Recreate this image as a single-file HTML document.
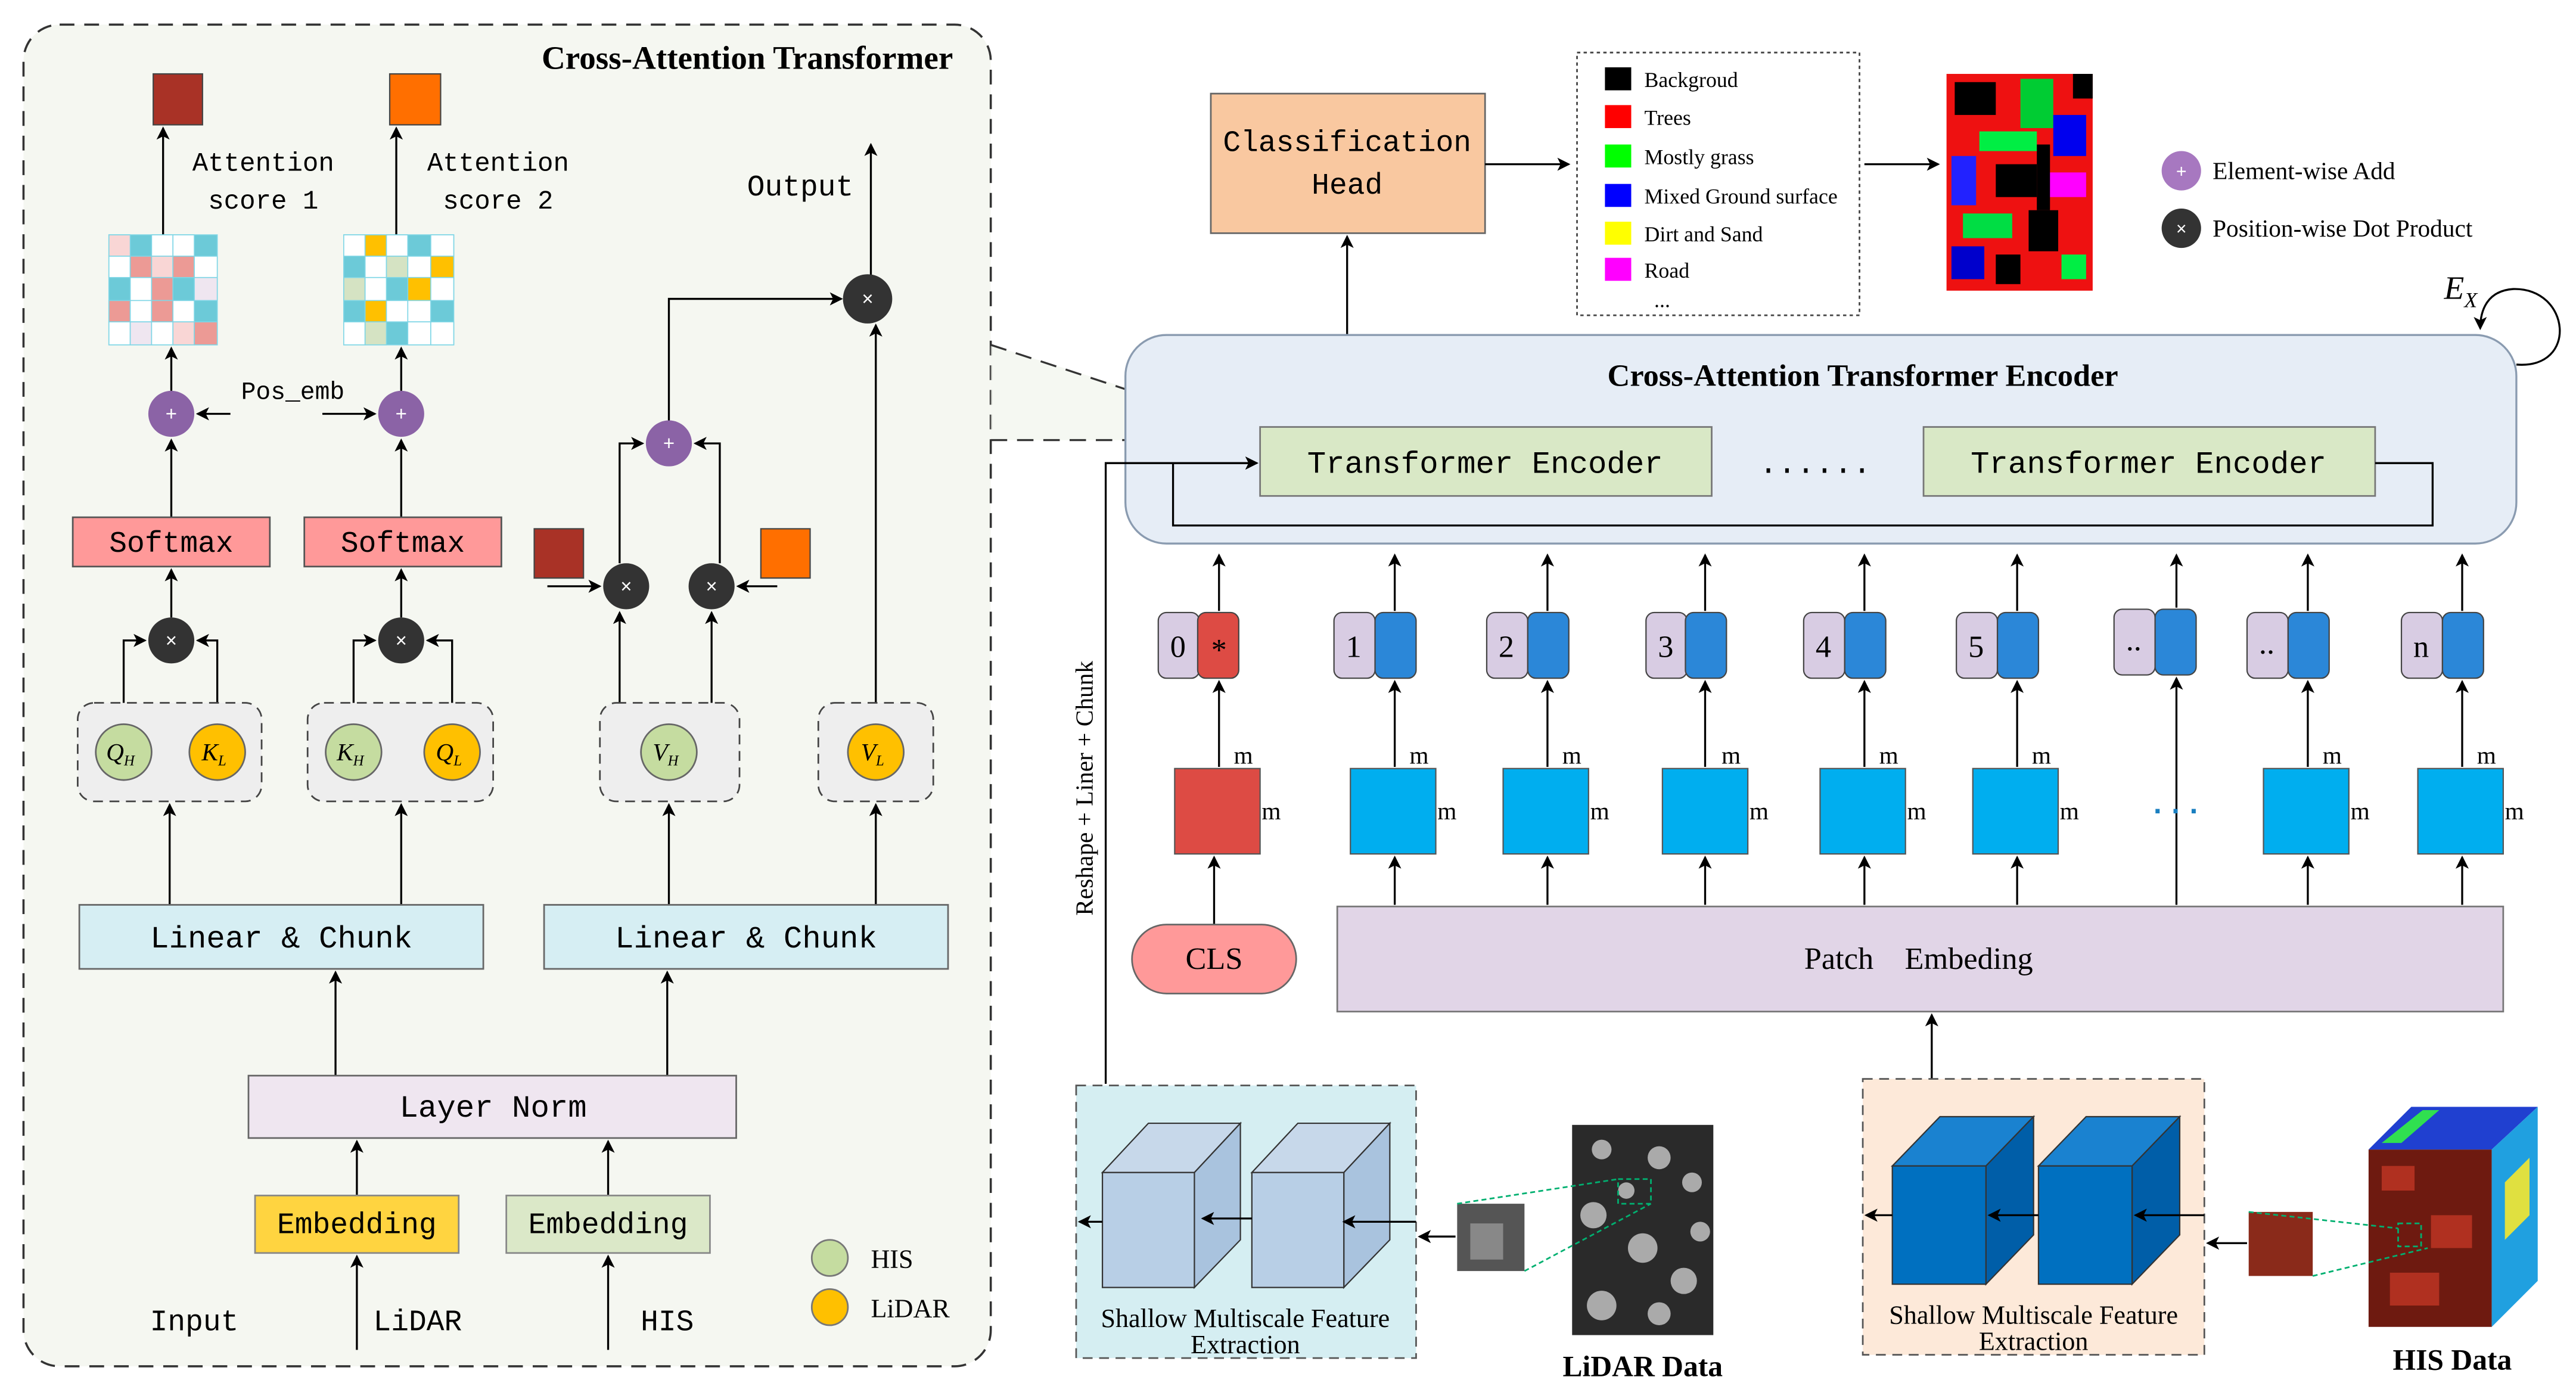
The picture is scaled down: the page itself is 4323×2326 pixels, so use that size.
<!DOCTYPE html>
<html><head><meta charset="utf-8"><style>
html,body{margin:0;padding:0;background:#fff}
svg{display:block}
.m{font-family:"Liberation Mono",monospace}
.s{font-family:"Liberation Serif",serif}
</style></head><body>
<svg width="4323" height="2326" viewBox="0 0 1568 844" xmlns="http://www.w3.org/2000/svg">
<defs>
<marker id="a" markerWidth="8" markerHeight="8" refX="7" refY="4" orient="auto" markerUnits="userSpaceOnUse"><path d="M0,0 L8,4 L0,8 L2,4 z" fill="#000"/></marker>
</defs>
<rect width="1568" height="844" fill="#fff"/>
<!-- LEFT PANEL -->
<rect x="14" y="15" width="589" height="817" rx="22" fill="#f5f7f1" stroke="#333" stroke-width="1.3" stroke-dasharray="9,6"/>
<text x="580" y="42" text-anchor="end" class="s" font-weight="bold" font-size="20">Cross-Attention Transformer</text>
<rect x="93" y="45" width="30" height="31" fill="#a93226" stroke="#444" stroke-width="0.8"/>
<rect x="237" y="45" width="31" height="31" fill="#ff6f00" stroke="#444" stroke-width="0.8"/>
<g stroke="#000" stroke-width="1.2" fill="none" marker-end="url(#a)">
<line x1="99" y1="143" x2="99" y2="78"/><line x1="241" y1="143" x2="241" y2="78"/>
<line x1="530" y1="168" x2="530" y2="88"/>
<line x1="104" y1="238" x2="104" y2="212"/><line x1="244" y1="238" x2="244" y2="212"/>
<line x1="140" y1="252" x2="120" y2="252"/><line x1="196" y1="252" x2="228" y2="252"/>
<line x1="104" y1="315" x2="104" y2="268"/><line x1="244" y1="315" x2="244" y2="268"/>
<line x1="104" y1="376" x2="104" y2="347"/><line x1="244" y1="376" x2="244" y2="347"/>
<polyline points="75,441 75,390 88,390"/><polyline points="132,441 132,390 120,390"/>
<polyline points="215,441 215,390 228,390"/><polyline points="275,441 275,390 260,390"/>
<line x1="103" y1="551" x2="103" y2="490"/><line x1="244" y1="551" x2="244" y2="490"/>
<line x1="407" y1="551" x2="407" y2="490"/><line x1="533" y1="551" x2="533" y2="490"/>
<line x1="204" y1="655" x2="204" y2="592"/><line x1="406" y1="655" x2="406" y2="592"/>
<line x1="217" y1="728" x2="217" y2="695"/><line x1="370" y1="728" x2="370" y2="695"/>
<line x1="217" y1="822" x2="217" y2="765"/><line x1="370" y1="822" x2="370" y2="765"/>
<line x1="377" y1="428" x2="377" y2="373"/><line x1="433" y1="428" x2="433" y2="373"/>
<line x1="333" y1="357" x2="365" y2="357"/><line x1="473" y1="357" x2="449" y2="357"/>
<polyline points="377,343 377,270 391,270"/><polyline points="438,343 438,270 423,270"/>
<polyline points="407,256 407,182 512,182"/>
<line x1="533" y1="428" x2="533" y2="198"/>
</g>
<text x="160" y="104" text-anchor="middle" class="m" font-size="16">Attention</text>
<text x="160" y="127" text-anchor="middle" class="m" font-size="16">score 1</text>
<text x="303" y="104" text-anchor="middle" class="m" font-size="16">Attention</text>
<text x="303" y="127" text-anchor="middle" class="m" font-size="16">score 2</text>
<text x="487" y="119" text-anchor="middle" class="m" font-size="18">Output</text>
<text x="178" y="243" text-anchor="middle" class="m" font-size="15">Pos_emb</text>
<!-- grids -->
<g stroke="#7fd6e6" stroke-width="0.6">
<rect x="66" y="143" width="66" height="67" fill="#6ccad8"/>
<rect x="66" y="143" width="13" height="13" fill="#f9d6d5"/><rect x="92" y="143" width="13" height="13" fill="#fff"/><rect x="105" y="143" width="13" height="13" fill="#fff"/>
<rect x="66" y="156" width="13" height="13" fill="#fff"/><rect x="79" y="156" width="13" height="13" fill="#ec9a95"/><rect x="92" y="156" width="13" height="13" fill="#f9d6d5"/><rect x="105" y="156" width="13" height="13" fill="#ec9a95"/><rect x="118" y="156" width="14" height="13" fill="#fff"/>
<rect x="79" y="169" width="13" height="14" fill="#fff"/><rect x="92" y="169" width="13" height="14" fill="#ec9a95"/><rect x="118" y="169" width="14" height="14" fill="#efe6f0"/>
<rect x="66" y="183" width="13" height="13" fill="#ec9a95"/><rect x="79" y="183" width="13" height="13" fill="#fff"/><rect x="92" y="183" width="13" height="13" fill="#ec9a95"/><rect x="105" y="183" width="13" height="13" fill="#fff"/>
<rect x="66" y="196" width="13" height="14" fill="#fff"/><rect x="79" y="196" width="13" height="14" fill="#efe6f0"/><rect x="92" y="196" width="13" height="14" fill="#fff"/><rect x="105" y="196" width="13" height="14" fill="#f9d6d5"/><rect x="118" y="196" width="14" height="14" fill="#ec9a95"/>
<rect x="209" y="143" width="67" height="67" fill="#6ccad8"/>
<rect x="209" y="143" width="13" height="13" fill="#fff"/><rect x="222" y="143" width="13" height="13" fill="#ffc000"/><rect x="235" y="143" width="13" height="13" fill="#fff"/><rect x="262" y="143" width="14" height="13" fill="#fff"/>
<rect x="222" y="156" width="13" height="13" fill="#fff"/><rect x="235" y="156" width="13" height="13" fill="#d5e3c3"/><rect x="248" y="156" width="14" height="13" fill="#fff"/><rect x="262" y="156" width="14" height="13" fill="#ffc000"/>
<rect x="209" y="169" width="13" height="14" fill="#d5e3c3"/><rect x="222" y="169" width="13" height="14" fill="#fff"/><rect x="248" y="169" width="14" height="14" fill="#ffc000"/><rect x="262" y="169" width="14" height="14" fill="#fff"/>
<rect x="222" y="183" width="13" height="13" fill="#ffc000"/><rect x="235" y="183" width="13" height="13" fill="#fff"/><rect x="248" y="183" width="14" height="13" fill="#fff"/>
<rect x="209" y="196" width="13" height="14" fill="#fff"/><rect x="222" y="196" width="13" height="14" fill="#d5e3c3"/><rect x="248" y="196" width="14" height="14" fill="#fff"/><rect x="262" y="196" width="14" height="14" fill="#fff"/>
</g>
<!-- circles -->
<g font-size="12" text-anchor="middle" fill="#fff" font-family="Liberation Sans,sans-serif">
<circle cx="104" cy="252" r="14" fill="#8b63a6"/><text x="104" y="256">+</text>
<circle cx="244" cy="252" r="14" fill="#8b63a6"/><text x="244" y="256">+</text>
<circle cx="407" cy="270" r="14" fill="#8b63a6"/><text x="407" y="274">+</text>
<circle cx="104" cy="390" r="14" fill="#333"/><text x="104" y="394">×</text>
<circle cx="244" cy="390" r="14" fill="#333"/><text x="244" y="394">×</text>
<circle cx="381" cy="357" r="14" fill="#333"/><text x="381" y="361">×</text>
<circle cx="433" cy="357" r="14" fill="#333"/><text x="433" y="361">×</text>
<circle cx="528" cy="182" r="15" fill="#333"/><text x="528" y="186">×</text>
</g>
<rect x="325" y="322" width="30" height="30" fill="#a93226" stroke="#444" stroke-width="0.8"/>
<rect x="463" y="322" width="30" height="30" fill="#ff6f00" stroke="#444" stroke-width="0.8"/>
<rect x="44" y="315" width="120" height="30" fill="#ff9999" stroke="#555"/>
<rect x="185" y="315" width="120" height="30" fill="#ff9999" stroke="#555"/>
<text x="104" y="336" text-anchor="middle" class="m" font-size="18">Softmax</text>
<text x="245" y="336" text-anchor="middle" class="m" font-size="18">Softmax</text>
<g fill="#eeeeee" stroke="#444" stroke-dasharray="6,4">
<rect x="47" y="428" width="112" height="60" rx="10"/><rect x="187" y="428" width="113" height="60" rx="10"/>
<rect x="365" y="428" width="85" height="60" rx="10"/><rect x="498" y="428" width="70" height="60" rx="10"/>
</g>
<g stroke="#666" font-family="Liberation Serif,serif" font-style="italic" font-size="15" text-anchor="middle">
<circle cx="75" cy="458" r="17" fill="#c5dca0"/><circle cx="132" cy="458" r="17" fill="#ffc000"/>
<circle cx="215" cy="458" r="17" fill="#c5dca0"/><circle cx="275" cy="458" r="17" fill="#ffc000"/>
<circle cx="407" cy="458" r="17" fill="#c5dca0"/><circle cx="533" cy="458" r="17" fill="#ffc000"/>
<g stroke="none" fill="#000">
<text x="73" y="463">Q<tspan font-size="9" dy="3">H</tspan></text><text x="130" y="463">K<tspan font-size="9" dy="3">L</tspan></text>
<text x="213" y="463">K<tspan font-size="9" dy="3">H</tspan></text><text x="273" y="463">Q<tspan font-size="9" dy="3">L</tspan></text>
<text x="405" y="463">V<tspan font-size="9" dy="3">H</tspan></text><text x="531" y="463">V<tspan font-size="9" dy="3">L</tspan></text>
</g></g>
<rect x="48" y="551" width="246" height="39" fill="#d6eef3" stroke="#666"/>
<rect x="331" y="551" width="246" height="39" fill="#d6eef3" stroke="#666"/>
<text x="171" y="577" text-anchor="middle" class="m" font-size="19">Linear &amp; Chunk</text>
<text x="454" y="577" text-anchor="middle" class="m" font-size="19">Linear &amp; Chunk</text>
<rect x="151" y="655" width="297" height="38" fill="#efe6f0" stroke="#666"/>
<text x="300" y="680" text-anchor="middle" class="m" font-size="19">Layer Norm</text>
<rect x="155" y="728" width="124" height="35" fill="#ffd440" stroke="#888"/>
<rect x="308" y="728" width="124" height="35" fill="#dbe8c8" stroke="#888"/>
<text x="217" y="751" text-anchor="middle" class="m" font-size="18">Embedding</text>
<text x="370" y="751" text-anchor="middle" class="m" font-size="18">Embedding</text>
<text x="118" y="810" text-anchor="middle" class="m" font-size="18">Input</text>
<text x="254" y="810" text-anchor="middle" class="m" font-size="18">LiDAR</text>
<text x="406" y="810" text-anchor="middle" class="m" font-size="18">HIS</text>
<circle cx="505" cy="766" r="11" fill="#c5dca0" stroke="#777"/><text x="530" y="772" class="s" font-size="16">HIS</text>
<circle cx="505" cy="796" r="11" fill="#ffc000" stroke="#777"/><text x="530" y="802" class="s" font-size="16">LiDAR</text>
<!-- dashed connectors -->
<polygon points="603,210 767,262 767,268 603,268" fill="#eef3ea" opacity="0.6"/>
<g stroke="#333" stroke-width="1.2" stroke-dasharray="10,6" fill="none">
<line x1="603" y1="210" x2="767" y2="264"/><line x1="603" y1="268" x2="767" y2="268"/>
</g>
<!-- RIGHT -->
<rect x="737" y="57" width="167" height="85" fill="#f9c8a0" stroke="#666"/>
<text x="820" y="92" text-anchor="middle" class="m" font-size="18">Classification</text>
<text x="820" y="118" text-anchor="middle" class="m" font-size="18">Head</text>
<rect x="960" y="32" width="172" height="160" fill="#fff" stroke="#444" stroke-dasharray="2,2"/>
<g class="s" font-size="13">
<rect x="977" y="41" width="16" height="14" fill="#000"/><text x="1001" y="53">Backgroud</text>
<rect x="977" y="64" width="16" height="14" fill="#ff0000"/><text x="1001" y="76">Trees</text>
<rect x="977" y="88" width="16" height="14" fill="#00ff00"/><text x="1001" y="100">Mostly grass</text>
<rect x="977" y="112" width="16" height="14" fill="#0000ff"/><text x="1001" y="124">Mixed Ground surface</text>
<rect x="977" y="135" width="16" height="14" fill="#ffff00"/><text x="1001" y="147">Dirt and Sand</text>
<rect x="977" y="157" width="16" height="14" fill="#ff00ff"/><text x="1001" y="169">Road</text>
<text x="1007" y="187">...</text>
</g>
<!-- classification map -->
<g>
<rect x="1185" y="45" width="89" height="132" fill="#ee1111"/>
<rect x="1190" y="50" width="25" height="20" fill="#000"/><rect x="1230" y="48" width="20" height="30" fill="#00cc33"/>
<rect x="1205" y="80" width="35" height="12" fill="#00ee44"/><rect x="1250" y="70" width="20" height="25" fill="#0000ee"/>
<rect x="1188" y="95" width="15" height="30" fill="#2222ff"/><rect x="1215" y="100" width="25" height="20" fill="#000"/>
<rect x="1245" y="105" width="25" height="15" fill="#ff00ff"/><rect x="1195" y="130" width="30" height="15" fill="#00dd44"/>
<rect x="1235" y="128" width="18" height="25" fill="#000"/><rect x="1188" y="150" width="20" height="20" fill="#0000cc"/>
<rect x="1215" y="155" width="15" height="18" fill="#000"/><rect x="1255" y="155" width="15" height="15" fill="#00ee44"/>
<rect x="1262" y="45" width="12" height="15" fill="#000"/><rect x="1240" y="88" width="8" height="40" fill="#000"/>
</g>
<g stroke="#000" stroke-width="1.2" fill="none" marker-end="url(#a)">
<line x1="904" y1="100" x2="955" y2="100"/><line x1="1135" y1="100" x2="1180" y2="100"/>
<line x1="820" y1="205" x2="820" y2="144"/>
</g>
<circle cx="1328" cy="104" r="12" fill="#a778c0"/><text x="1328" y="108" text-anchor="middle" fill="#fff" font-size="11" font-family="Liberation Sans,sans-serif">+</text>
<text x="1347" y="109" class="s" font-size="15">Element-wise Add</text>
<circle cx="1328" cy="139" r="12" fill="#333"/><text x="1328" y="143" text-anchor="middle" fill="#fff" font-size="11" font-family="Liberation Sans,sans-serif">×</text>
<text x="1347" y="144" class="s" font-size="15">Position-wise Dot Product</text>
<!-- Encoder -->
<rect x="685" y="204" width="847" height="127" rx="25" fill="#e6edf6" stroke="#8a9bb0" stroke-width="1.2"/>
<text x="1134" y="235" text-anchor="middle" class="s" font-weight="bold" font-size="19">Cross-Attention Transformer Encoder</text>
<rect x="767" y="260" width="275" height="42" fill="#d9e8c6" stroke="#777"/>
<rect x="1171" y="260" width="275" height="42" fill="#d9e8c6" stroke="#777"/>
<text x="904" y="288" text-anchor="middle" class="m" font-size="19">Transformer Encoder</text>
<text x="1308" y="288" text-anchor="middle" class="m" font-size="19">Transformer Encoder</text>
<text x="1105" y="288" text-anchor="middle" class="m" font-size="19">......</text>
<text x="1488" y="182" class="s" font-style="italic" font-size="20">E<tspan font-size="13" dy="5">X</tspan></text>
<g stroke="#000" stroke-width="1.2" fill="none">
<polyline points="1446,282 1481,282 1481,320 714,320 714,282 765,282" marker-end="url(#a)"/>
<polyline points="673,660 673,282 765,282" marker-end="url(#a)"/>
<path d="M1532,222 C1570,225 1565,175 1530,176 C1515,177 1510,188 1510,200" marker-end="url(#a)"/>
</g>
<text transform="translate(665,480) rotate(-90)" text-anchor="middle" class="s" font-size="15">Reshape + Liner + Chunk</text>
<!-- tokens -->
<g stroke="#444" stroke-width="0.8">
<rect x="705" y="373" width="25" height="40" rx="5" fill="#d8cce3"/><rect x="729" y="373" width="25" height="40" rx="5" fill="#dd4b44"/>
<rect x="812" y="373" width="25" height="40" rx="5" fill="#d8cce3"/><rect x="837" y="373" width="25" height="40" rx="5" fill="#2b87d8"/>
<rect x="905" y="373" width="25" height="40" rx="5" fill="#d8cce3"/><rect x="930" y="373" width="25" height="40" rx="5" fill="#2b87d8"/>
<rect x="1002" y="373" width="25" height="40" rx="5" fill="#d8cce3"/><rect x="1026" y="373" width="25" height="40" rx="5" fill="#2b87d8"/>
<rect x="1098" y="373" width="25" height="40" rx="5" fill="#d8cce3"/><rect x="1123" y="373" width="25" height="40" rx="5" fill="#2b87d8"/>
<rect x="1191" y="373" width="25" height="40" rx="5" fill="#d8cce3"/><rect x="1216" y="373" width="25" height="40" rx="5" fill="#2b87d8"/>
<rect x="1287" y="371" width="25" height="40" rx="5" fill="#d8cce3"/><rect x="1312" y="371" width="25" height="40" rx="5" fill="#2b87d8"/>
<rect x="1368" y="373" width="25" height="40" rx="5" fill="#d8cce3"/><rect x="1393" y="373" width="25" height="40" rx="5" fill="#2b87d8"/>
<rect x="1462" y="373" width="25" height="40" rx="5" fill="#d8cce3"/><rect x="1487" y="373" width="25" height="40" rx="5" fill="#2b87d8"/>
</g>
<g class="s" font-size="19" text-anchor="middle">
<text x="717" y="400">0</text><text x="742" y="402">*</text><text x="824" y="400">1</text><text x="917" y="400">2</text>
<text x="1014" y="400">3</text><text x="1110" y="400">4</text><text x="1203" y="400">5</text>
<text x="1299" y="396">..</text><text x="1380" y="398">..</text><text x="1474" y="400">n</text>
</g>
<g stroke="#000" stroke-width="1.2" fill="none" marker-end="url(#a)">
<line x1="742" y1="372" x2="742" y2="338"/><line x1="849" y1="372" x2="849" y2="338"/><line x1="942" y1="372" x2="942" y2="338"/>
<line x1="1038" y1="372" x2="1038" y2="338"/><line x1="1135" y1="372" x2="1135" y2="338"/><line x1="1228" y1="372" x2="1228" y2="338"/>
<line x1="1325" y1="370" x2="1325" y2="338"/><line x1="1405" y1="372" x2="1405" y2="338"/><line x1="1499" y1="372" x2="1499" y2="338"/>
<line x1="742" y1="467" x2="742" y2="415"/><line x1="849" y1="467" x2="849" y2="415"/><line x1="942" y1="467" x2="942" y2="415"/>
<line x1="1038" y1="467" x2="1038" y2="415"/><line x1="1135" y1="467" x2="1135" y2="415"/><line x1="1228" y1="467" x2="1228" y2="415"/>
<line x1="1325" y1="551" x2="1325" y2="413"/><line x1="1405" y1="467" x2="1405" y2="415"/><line x1="1499" y1="467" x2="1499" y2="415"/>
<line x1="849" y1="551" x2="849" y2="522"/><line x1="942" y1="551" x2="942" y2="522"/><line x1="1038" y1="551" x2="1038" y2="522"/>
<line x1="1135" y1="551" x2="1135" y2="522"/><line x1="1228" y1="551" x2="1228" y2="522"/><line x1="1405" y1="551" x2="1405" y2="522"/>
<line x1="1499" y1="551" x2="1499" y2="522"/><line x1="739" y1="563" x2="739" y2="522"/>
<line x1="1176" y1="660" x2="1176" y2="618"/>
</g>
<g stroke="#555" stroke-width="0.8">
<rect x="715" y="468" width="52" height="52" fill="#dd4b44"/>
<rect x="822" y="468" width="52" height="52" fill="#00aeef"/><rect x="915" y="468" width="52" height="52" fill="#00aeef"/>
<rect x="1012" y="468" width="52" height="52" fill="#00aeef"/><rect x="1108" y="468" width="52" height="52" fill="#00aeef"/>
<rect x="1201" y="468" width="52" height="52" fill="#00aeef"/><rect x="1378" y="468" width="52" height="52" fill="#00aeef"/>
<rect x="1472" y="468" width="52" height="52" fill="#00aeef"/>
</g>
<g class="s" font-size="15">
<text x="751" y="465">m</text><text x="768" y="499">m</text>
<text x="858" y="465">m</text><text x="875" y="499">m</text>
<text x="951" y="465">m</text><text x="968" y="499">m</text>
<text x="1048" y="465">m</text><text x="1065" y="499">m</text>
<text x="1144" y="465">m</text><text x="1161" y="499">m</text>
<text x="1237" y="465">m</text><text x="1254" y="499">m</text>
<text x="1414" y="465">m</text><text x="1431" y="499">m</text>
<text x="1508" y="465">m</text><text x="1525" y="499">m</text>
</g>
<text x="1325" y="500" text-anchor="middle" font-size="18" font-weight="bold" fill="#1a7fc0" font-family="Liberation Sans,sans-serif">· · ·</text>
<rect x="689" y="563" width="100" height="42" rx="21" fill="#ff9999" stroke="#666"/>
<text x="739" y="590" text-anchor="middle" class="s" font-size="19">CLS</text>
<rect x="814" y="552" width="710" height="64" fill="#e1d5e7" stroke="#777"/>
<text x="1168" y="590" text-anchor="middle" class="s" font-size="19" xml:space="preserve">Patch    Embeding</text>
<!-- extraction boxes -->
<rect x="655" y="661" width="207" height="166" fill="#d5eef2" stroke="#555" stroke-dasharray="6,4"/>
<rect x="1134" y="657" width="208" height="168" fill="#fde9d9" stroke="#555" stroke-dasharray="6,4"/>
<g stroke="#333" stroke-width="0.8">
<path d="M671,714 L699,684 L755,684 L727,714 z" fill="#c7d8ea"/><path d="M727,714 L755,684 L755,755 L727,784 z" fill="#a9c3de"/><rect x="671" y="714" width="56" height="70" fill="#b8cfe6"/>
<path d="M762,714 L790,684 L846,684 L818,714 z" fill="#c7d8ea"/><path d="M818,714 L846,684 L846,755 L818,784 z" fill="#a9c3de"/><rect x="762" y="714" width="56" height="70" fill="#b8cfe6"/>
<path d="M1152,710 L1181,680 L1238,680 L1209,710 z" fill="#1a82d0"/><path d="M1209,710 L1238,680 L1238,752 L1209,782 z" fill="#005ea8"/><rect x="1152" y="710" width="57" height="72" fill="#0070c0"/>
<path d="M1241,710 L1270,680 L1327,680 L1298,710 z" fill="#1a82d0"/><path d="M1298,710 L1327,680 L1327,752 L1298,782 z" fill="#005ea8"/><rect x="1241" y="710" width="57" height="72" fill="#0070c0"/>
</g>
<g stroke="#000" stroke-width="1.2" fill="none" marker-end="url(#a)">
<line x1="671" y1="744" x2="657" y2="744"/><line x1="762" y1="742" x2="732" y2="742"/><line x1="862" y1="744" x2="818" y2="744"/>
<line x1="886" y1="753" x2="864" y2="753"/>
<line x1="1152" y1="740" x2="1136" y2="740"/><line x1="1241" y1="740" x2="1211" y2="740"/><line x1="1342" y1="740" x2="1300" y2="740"/>
<line x1="1368" y1="757" x2="1344" y2="757"/>
</g>
<g class="s" font-size="16" text-anchor="middle">
<text x="758" y="808">Shallow Multiscale Feature</text><text x="758" y="824">Extraction</text>
<text x="1238" y="806">Shallow Multiscale Feature</text><text x="1238" y="822">Extraction</text>
</g>
<!-- LiDAR images -->
<rect x="887" y="733" width="41" height="41" fill="#555"/>
<rect x="895" y="745" width="20" height="22" fill="#888"/>
<rect x="957" y="685" width="86" height="128" fill="#2a2a2a"/>
<g fill="#aaa"><circle cx="975" cy="700" r="6"/><circle cx="1010" cy="705" r="7"/><circle cx="1030" cy="720" r="6"/><circle cx="970" cy="740" r="8"/><circle cx="1000" cy="760" r="9"/><circle cx="1025" cy="780" r="8"/><circle cx="975" cy="795" r="9"/><circle cx="1010" cy="800" r="7"/><circle cx="990" cy="725" r="5"/><circle cx="1035" cy="750" r="6"/></g>
<g stroke="#00b070" stroke-dasharray="3,2" fill="none"><line x1="887" y1="733" x2="985" y2="718"/><line x1="928" y1="774" x2="1005" y2="733"/><rect x="985" y="718" width="20" height="15"/></g>
<text x="1000" y="838" text-anchor="middle" class="s" font-weight="bold" font-size="18">LiDAR Data</text>
<!-- HIS images -->
<rect x="1369" y="738" width="39" height="39" fill="#8a2a1a"/>
<rect x="1442" y="700" width="75" height="108" fill="#6e1a10"/>
<g fill="#b03020"><rect x="1450" y="710" width="20" height="15"/><rect x="1480" y="740" width="25" height="20"/><rect x="1455" y="775" width="30" height="20"/></g>
<path d="M1442,700 L1468,674 L1545,674 L1517,700 z" fill="#2040d0"/>
<path d="M1517,700 L1545,674 L1545,780 L1517,808 z" fill="#20a0e0"/>
<path d="M1450,696 L1475,676 L1485,676 L1462,696 z" fill="#30e050"/>
<path d="M1525,720 L1540,705 L1540,740 L1525,755 z" fill="#e0e040"/>
<g stroke="#00b070" stroke-dasharray="3,2" fill="none"><line x1="1369" y1="738" x2="1460" y2="748"/><line x1="1408" y1="777" x2="1478" y2="760"/><rect x="1460" y="745" width="14" height="14"/></g>
<text x="1493" y="834" text-anchor="middle" class="s" font-weight="bold" font-size="18">HIS Data</text>
</svg>
</body></html>
